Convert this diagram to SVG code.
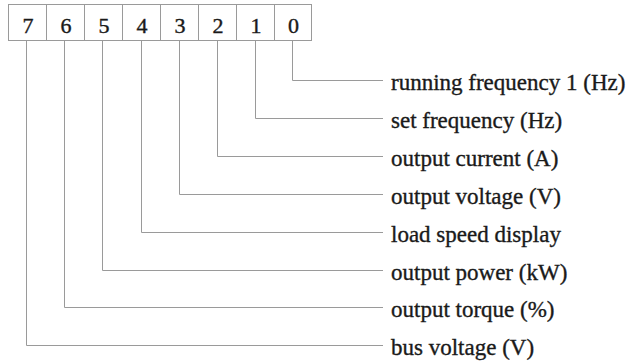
<svg xmlns="http://www.w3.org/2000/svg" width="630" height="362" viewBox="0 0 630 362">
<style>
.cell{fill:#fff;stroke:#9a9a9a;stroke-width:1}
.digit{font-family:"Liberation Serif",serif;font-size:22px;fill:#1a1a1a;stroke:#1a1a1a;stroke-width:0.4;text-anchor:middle}
.lbl{font-family:"Liberation Serif",serif;font-size:23px;fill:#1a1a1a;stroke:#1a1a1a;stroke-width:0.35}
.conn{fill:none;stroke:#9a9a9a;stroke-width:1}
</style>
<rect width="630" height="362" fill="#fff"/>
<g id="register">
<rect class="cell" x="8.5" y="4.5" width="38" height="36"/>
<rect class="cell" x="46.5" y="4.5" width="38" height="36"/>
<rect class="cell" x="84.5" y="4.5" width="38" height="36"/>
<rect class="cell" x="122.5" y="4.5" width="38" height="36"/>
<rect class="cell" x="160.5" y="4.5" width="38" height="36"/>
<rect class="cell" x="198.5" y="4.5" width="38" height="36"/>
<rect class="cell" x="236.5" y="4.5" width="38" height="36"/>
<rect class="cell" x="274.5" y="4.5" width="37" height="36"/>
<text class="digit" x="28" y="33">7</text>
<text class="digit" x="66" y="33">6</text>
<text class="digit" x="104" y="33">5</text>
<text class="digit" x="142" y="33">4</text>
<text class="digit" x="180" y="33">3</text>
<text class="digit" x="218" y="33">2</text>
<text class="digit" x="256" y="33">1</text>
<text class="digit" x="293.5" y="33">0</text>
</g>
<g id="connectors">
<polyline class="conn" points="292.5,40.5 292.5,80.5 383,80.5"/>
<polyline class="conn" points="255.5,40.5 255.5,118.5 383,118.5"/>
<polyline class="conn" points="217.5,40.5 217.5,156.5 383,156.5"/>
<polyline class="conn" points="179.5,40.5 179.5,194.5 383,194.5"/>
<polyline class="conn" points="141.5,40.5 141.5,232.5 383,232.5"/>
<polyline class="conn" points="102.5,40.5 102.5,270.5 383,270.5"/>
<polyline class="conn" points="64.5,40.5 64.5,307.5 383,307.5"/>
<polyline class="conn" points="26.5,40.5 26.5,345.5 383,345.5"/>
</g>
<g id="label-0"><text class="lbl" x="391" y="90">running frequency 1 (Hz)</text></g>
<g id="label-1"><text class="lbl" x="391" y="128">set frequency (Hz)</text></g>
<g id="label-2"><text class="lbl" x="391" y="166">output current (A)</text></g>
<g id="label-3"><text class="lbl" x="391" y="204">output voltage (V)</text></g>
<g id="label-4"><text class="lbl" x="391" y="242">load speed display</text></g>
<g id="label-5"><text class="lbl" x="391" y="280">output power (kW)</text></g>
<g id="label-6"><text class="lbl" x="391" y="317">output torque (%)</text></g>
<g id="label-7"><text class="lbl" x="391" y="355">bus voltage (V)</text></g>
</svg>
